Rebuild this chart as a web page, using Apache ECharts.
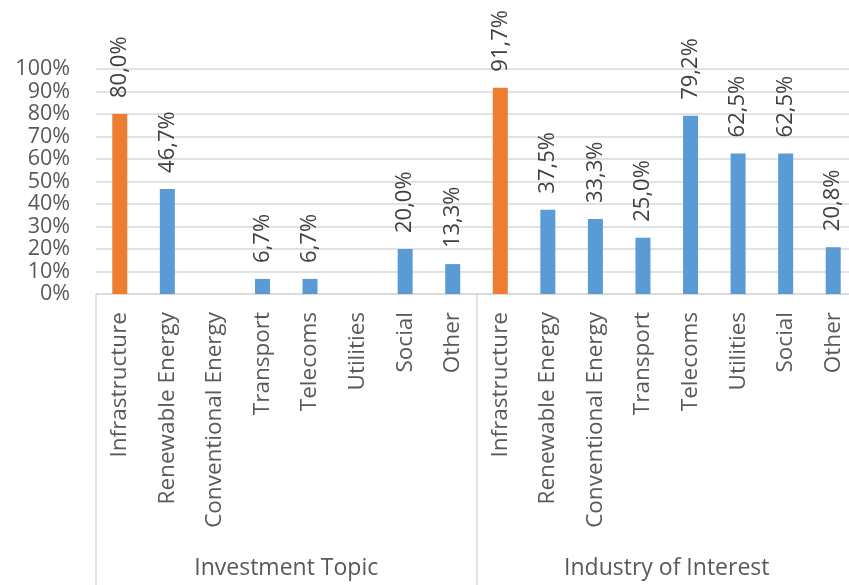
<!DOCTYPE html>
<html>
<head>
<meta charset="utf-8" />
<title>Investment Topic / Industry of Interest</title>
<script src="https://cdn.jsdelivr.net/npm/echarts@6/dist/echarts.min.js"></script>
<style>
	html, body { margin: 0; padding: 0; background: #fff; }
	#chart { width: 849px; height: 585px; }
</style>
</head>
<body>
<div id="chart"></div>
<script>
// categories, two groups of eight
var categories = ['Infrastructure', 'Renewable Energy', 'Conventional Energy', 'Transport', 'Telecoms', 'Utilities', 'Social', 'Other',
	'Infrastructure', 'Renewable Energy', 'Conventional Energy', 'Transport', 'Telecoms', 'Utilities', 'Social', 'Other'];
var groups = ['Investment Topic', 'Industry of Interest'];
// share in %, null = no bar
var values = [80.0, 46.7, null, 6.7, 6.7, null, 20.0, 13.3,
	91.7, 37.5, 33.3, 25.0, 79.2, 62.5, 62.5, 20.8];
var highlight = ['Infrastructure'];

var FONT = 'Open Sans';
var chart = echarts.init(document.getElementById('chart'));

var option = {
	animation: false,
	textStyle: { fontFamily: FONT },
	grid: {
		left: 96,
		right: -8,
		top: 69,
		bottom: 291,
		outerBoundsMode: 'none'
	},
	xAxis: [{
		type: 'category',
		data: categories,
		axisLine: { show: true, lineStyle: { color: '#d9d9d9', width: 1.5 } },
		axisTick: { show: false },
		axisLabel: {
			interval: 0,
			rotate: 90,
			margin: 18,
			fontSize: 22.5,
			color: '#595959',
			fontFamily: FONT
		}
	}, {
		type: 'category',
		data: groups,
		position: 'bottom',
		axisLine: { show: false },
		axisTick: {
			show: true,
			interval: 0,
			length: 300,
			lineStyle: { color: '#d9d9d9', width: 1.5 }
		},
		axisLabel: {
			interval: 0,
			margin: 263,
			fontSize: 23,
			color: '#595959',
			fontFamily: FONT
		}
	}],
	yAxis: {
		type: 'value',
		min: 0,
		max: 100,
		interval: 10,
		axisLine: { show: false },
		axisTick: { show: false },
		splitLine: { lineStyle: { color: '#d9d9d9', width: 1.5 } },
		axisLabel: {
			formatter: '{value}%',
			fontSize: 21.5,
			margin: 26,
			color: '#595959',
			fontFamily: FONT
		}
	},
	series: [{
		type: 'bar',
		xAxisIndex: 0,
		barWidth: 15,
		data: values.map(function (v, i) {
			return {
				value: v,
				itemStyle: { color: highlight.indexOf(categories[i]) >= 0 ? '#ed7d31' : '#5b9bd5' }
			};
		}),
		label: {
			show: true,
			position: 'top',
			rotate: 90,
			align: 'left',
			verticalAlign: 'middle',
			distance: 16,
			fontSize: 22,
			color: '#404040',
			fontFamily: FONT,
			formatter: function (p) {
				return p.value == null ? '' : p.value.toFixed(1).replace('.', ',') + '%';
			}
		}
	}]
};
chart.setOption(option);
</script>
</body>
</html>
